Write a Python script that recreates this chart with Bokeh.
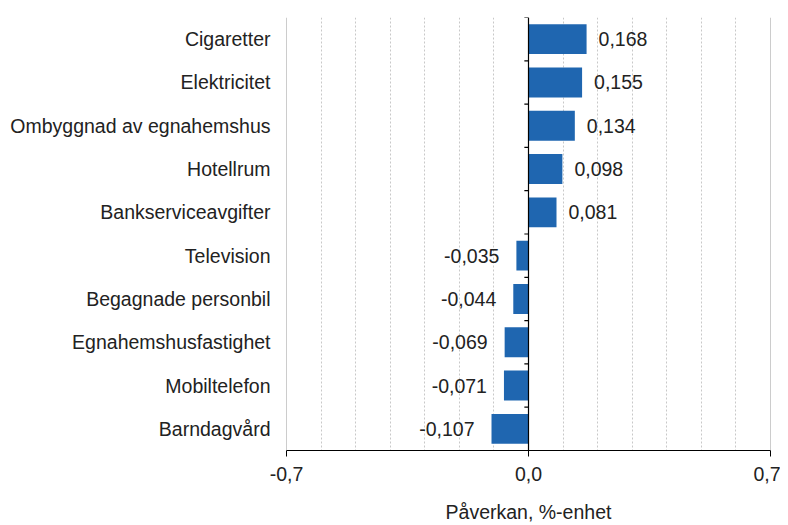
from bokeh.plotting import figure
from bokeh.models import (ColumnDataSource, FixedTicker, CustomJSTickFormatter, Span)
from bokeh.core.properties import value
from bokeh.embed import file_html
from bokeh.resources import INLINE

categories = ["Cigaretter", "Elektricitet", "Ombyggnad av egnahemshus", "Hotellrum",
              "Bankserviceavgifter", "Television", "Begagnade personbil",
              "Egnahemshusfastighet", "Mobiltelefon", "Barndagvård"]
values = [0.168, 0.155, 0.134, 0.098, 0.081, -0.035, -0.044, -0.069, -0.071, -0.107]
x_ticks = [-0.7, 0.0, 0.7]
x_label = "Påverkan, %-enhet"

FONT = "Liberation Sans"
FS = "19.5px"
TXT = "#222222"
BAR = "#1f66b0"

n = len(categories)
idx = list(range(n))
labels = [f"{v:.3f}".replace(".", ",") for v in values]
src = ColumnDataSource(dict(
    y=idx, v=values, lab=labels,
    align=["left" if v >= 0 else "right" for v in values],
    xoff=[12 if v >= 0 else -17 for v in values],
))

p = figure(width=780, height=525, output_backend="svg", toolbar_location=None,
           x_range=(-0.7, 0.7), y_range=(n - 0.5, -0.5),
           min_border_left=286, min_border_right=10, min_border_top=17,
           min_border_bottom=73)
p.outline_line_color = None
p.background_fill_color = "white"
p.border_fill_color = "white"

# grid
p.ygrid.grid_line_color = None
p.xgrid.ticker = FixedTicker(ticks=[k / 10 for k in range(-6, 7) if k != 0])
p.xgrid.grid_line_color = "#c8c8c8"
p.xgrid.grid_line_dash = "2 2"
p.xgrid.grid_line_width = 1

for xv in (x_ticks[0], x_ticks[-1]):
    p.add_layout(Span(location=xv, dimension="height", line_color="#9a9a9a", line_width=1))

p.hbar(y="y", right="v", left=0, height=0.69, source=src, fill_color=BAR, line_color=None)

# zero axis line with category boundary ticks
p.add_layout(Span(location=0, dimension="height", line_color="black", line_width=1.2))
bnd = [i - 0.5 for i in idx]
p.segment(x0=[0] * n, x1=[-0.012] * n, y0=bnd, y1=bnd, line_color="black", line_width=1.2)

p.text(x="v", y="y", text="lab", source=src, text_align="align", x_offset="xoff",
       text_baseline="middle", text_font=value(FONT), text_font_size=FS, text_color=TXT)

# x axis
xa = p.xaxis[0]
xa.ticker = FixedTicker(ticks=x_ticks)
xa.formatter = CustomJSTickFormatter(code="return tick.toFixed(1).replace('.', ',');")
xa.minor_tick_line_color = None
xa.major_tick_out = 6
xa.major_tick_in = 0
xa.axis_line_color = "black"
xa.major_tick_line_color = "black"
xa.axis_line_width = 1.2
xa.major_label_standoff = 10
xa.major_label_text_font = FONT
xa.major_label_text_font_size = FS
xa.major_label_text_color = TXT
xa.axis_label = x_label
xa.axis_label_text_font = FONT
xa.axis_label_text_font_size = FS
xa.axis_label_text_font_style = "normal"
xa.axis_label_text_color = TXT
xa.axis_label_standoff = 17

# y axis (category labels)
ya = p.yaxis[0]
ya.ticker = FixedTicker(ticks=idx)
ya.formatter = CustomJSTickFormatter(args=dict(names=categories),
                                     code="return names[Math.round(tick)];")
ya.axis_line_color = None
ya.major_tick_line_color = None
ya.minor_tick_line_color = None
ya.major_label_standoff = 10
ya.major_label_text_font = FONT
ya.major_label_text_font_size = FS
ya.major_label_text_color = TXT

open("out.html", "w").write(file_html(p, INLINE))
